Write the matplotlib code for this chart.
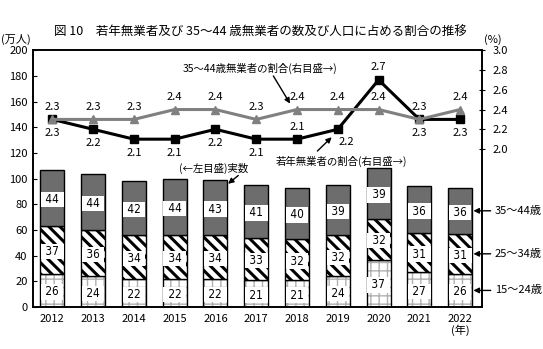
import numpy as np
import matplotlib
matplotlib.use('Agg')
import matplotlib.pyplot as plt

plt.rcParams['font.family'] = ['Noto Sans CJK JP', 'DejaVu Sans']
plt.rcParams['hatch.linewidth'] = 2.2

# data
years = ['2012', '2013', '2014', '2015', '2016', '2017',
         '2018', '2019', '2020', '2021', '2022']
age_15_24 = [26, 24, 22, 22, 22, 21, 21, 24, 37, 27, 26]
age_25_34 = [37, 36, 34, 34, 34, 33, 32, 32, 32, 31, 31]
age_35_44 = [44, 44, 42, 44, 43, 41, 40, 39, 39, 36, 36]
rate_young = [2.3, 2.2, 2.1, 2.1, 2.2, 2.1, 2.1, 2.2, 2.7, 2.3, 2.3]
rate_35_44 = [2.3, 2.3, 2.3, 2.4, 2.4, 2.3, 2.4, 2.4, 2.4, 2.3, 2.4]
group_names = ['15～24歳', '25～34歳', '35～44歳']

# label placement for the young-rate line ('b' below, 'a' above, 'r' below-right)
young_pos = ['b', 'b', 'b', 'b', 'b', 'b', 'a', 'r', 'a', 'b', 'b']

fig = plt.figure(figsize=(5.43, 3.49), dpi=100)
ax = fig.add_axes([0.061, 0.12, 0.827, 0.736])

x = np.arange(len(years))
w = 0.59
b1 = np.array(age_15_24)
b2 = b1 + np.array(age_25_34)

# 15-24: light grey grid hatch + black outline
grid_bars = ax.bar(x, age_15_24, w, color='white', edgecolor='#b0b0b0', hatch='++', linewidth=0)
ax.bar(x, age_15_24, w, fill=False, edgecolor='black', linewidth=1.0)
for p in grid_bars:
    if hasattr(p, 'set_hatch_linewidth'):
        p.set_hatch_linewidth(1.0)
# 25-34: thick diagonal stripes
ax.bar(x, age_25_34, w, bottom=b1, color='white', edgecolor='black',
       hatch='\\\\\\', linewidth=1.0)
# 35-44: dark grey
ax.bar(x, age_35_44, w, bottom=b2, color='#6d6d6d', edgecolor='black', linewidth=1.0)

box = dict(boxstyle='square,pad=0.1', facecolor='white', edgecolor='none')
for i in x:
    for val, base in [(age_15_24[i], 0), (age_25_34[i], b1[i]), (age_35_44[i], b2[i])]:
        ax.text(i, base + val / 2, f' {val} ', ha='center', va='center_baseline',
                fontsize=8.5, bbox=box, zorder=5,
                fontfamily=['DejaVu Sans'], fontstretch='condensed')

ax.set_xlim(-0.47, 10.54)
ax.set_ylim(0, 200)
ax.set_yticks(np.arange(0, 201, 20))
ax.set_xticks(x)
ax.set_xticklabels(years)
ax.tick_params(axis='x', length=0, labelsize=8, pad=5)
ax.tick_params(axis='y', direction='in', length=3, labelsize=8, pad=4)
for s in ax.spines.values():
    s.set_linewidth(1.2)

# right axis: rates
ax2 = ax.twinx()
ax2.set_ylim(0.4, 3.0)
ax2.set_yticks(np.arange(2.0, 3.01, 0.2))
ax2.set_yticklabels([f'{v:.1f}' for v in np.arange(2.0, 3.01, 0.2)])
ax2.tick_params(axis='y', direction='inout', length=5, labelsize=8, pad=5)
for s in ax2.spines.values():
    s.set_linewidth(1.2)

ax2.plot(x, rate_young, color='black', lw=2.2, marker='s', ms=6, zorder=3)
ax2.plot(x, rate_35_44, color='#808080', lw=2.2, marker='^', ms=6, zorder=4)

for i in x:
    ax2.annotate(f'{rate_35_44[i]:.1f}', (i, rate_35_44[i]), xytext=(0, 9),
                 textcoords='offset points', ha='center', va='center', fontsize=8)
    off = {'b': (0, -10), 'a': (0, 9), 'r': (6, -9)}[young_pos[i]]
    ax2.annotate(f'{rate_young[i]:.1f}', (i, rate_young[i]), xytext=off,
                 textcoords='offset points', ha='center', va='center', fontsize=8)

arrow = dict(arrowstyle='-|>', color='black', lw=1.0, mutation_scale=8, shrinkA=0, shrinkB=0)
ax2.text(5.1, 2.82, '35～44歳無業者の割合(右目盛→)', ha='center', va='center', fontsize=7.5)
ax2.annotate('', xy=(5.83, 2.46), xytext=(5.42, 2.74), arrowprops=arrow)
ax2.text(7.1, 1.88, '若年無業者の割合(右目盛→)', ha='center', va='center', fontsize=7.5)
ax2.annotate('', xy=(6.85, 2.12), xytext=(6.5, 1.98), arrowprops=arrow)
ax.text(3.95, 108, '(←左目盛)実数', ha='center', va='center', fontsize=7.5)
ax.annotate('', xy=(4.31, 96), xytext=(4.56, 102.5), arrowprops=arrow)

# group labels on the right of the last bar
mids = [age_15_24[-1] / 2, b1[-1] + age_25_34[-1] / 2, b2[-1] + age_35_44[-1] / 2]
for name, m in zip(group_names, mids):
    ax.annotate(name, xy=(10 + w / 2 + 0.03, m), xytext=(10.85, m),
                ha='left', va='center', fontsize=8, annotation_clip=False,
                arrowprops=dict(arrow, shrinkA=1))

fig.text(0.48, 0.908, '図 10　若年無業者及び 35～44 歳無業者の数及び人口に占める割合の推移',
         ha='center', va='center', fontsize=9)
fig.text(0.03, 0.888, '(万人)', ha='center', va='center', fontsize=8)
fig.text(0.907, 0.888, '(%)', ha='center', va='center', fontsize=8)
ax.text(10, -18, '(年)', ha='center', va='center', fontsize=8, clip_on=False)

fig.savefig('out.png', dpi=100)
